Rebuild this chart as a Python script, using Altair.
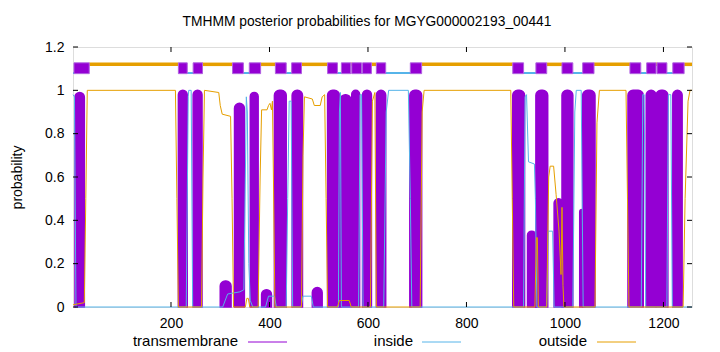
import altair as alt
import pandas as pd

title_text = "TMHMM posterior probabilities for MGYG000002193_00441"
seq_first = 1
seq_last = 1258

# --- transmembrane posterior peaks (start, end, height) ---
tm_start = [5, 215, 245, 300, 329, 361, 384, 410, 446, 487, 518, 544, 567, 589, 617, 685,
            894, 924, 941, 978, 994, 1030, 1036, 1128, 1165, 1185, 1219]
tm_end = [24, 233, 263, 322, 349, 377, 404, 434, 467, 507, 542, 565, 583, 607, 636, 709,
          918, 941, 965, 996, 1016, 1040, 1061, 1159, 1185, 1209, 1238]
tm_height = [0.99, 1.0, 1.0, 0.12, 0.94, 0.99, 0.08, 1.0, 1.0, 0.09, 1.0, 0.98, 1.0, 1.0, 1.0, 1.0,
             1.0, 0.35, 1.0, 0.5, 1.0, 0.45, 1.0, 1.0, 1.0, 1.0, 1.0]

# --- inside posterior (breakpoints) ---
inside_pos = [1, 4, 7, 231, 235, 236, 241, 244, 305, 315, 340, 348, 351, 353, 355, 358, 361, 366,
              392, 398, 410, 414, 434, 437, 440, 444, 447, 464, 468, 485, 489, 540, 542, 544, 546,
              581, 584, 587, 590, 632, 637, 642, 682, 686, 689, 916, 919, 922, 926, 938, 940, 943,
              963, 966, 975, 978, 1016, 1020, 1023, 1033, 1037, 1155, 1158, 1161, 1164,
              1207, 1210, 1215, 1218, 1258]
inside_prob = [0.98, 0.97, 0.0, 0.0, 0.97, 1.0, 1.0, 0.0, 0.0, 0.06, 0.07, 0.08, 0.6, 0.97, 0.9, 0.2, 0.03, 0.0,
               0.0, 0.05, 0.05, 0.0, 0.0, 0.5, 0.95, 0.95, 0.0, 0.0, 0.05, 0.05, 0.0, 0.0, 0.9, 0.99, 0.0,
               0.0, 0.98, 0.98, 0.0, 0.0, 0.9, 1.0, 1.0, 0.5, 0.0, 0.0, 0.97, 0.98, 0.67, 0.66, 0.5, 0.0,
               0.0, 0.35, 0.35, 0.0, 0.0, 0.9, 1.0, 1.0, 0.0, 0.0, 0.98, 0.98, 0.0,
               0.0, 0.98, 0.98, 0.0, 0.0]

# --- outside posterior (breakpoints) ---
outside_pos = [1, 24, 27, 30, 209, 212, 215, 262, 265, 268, 297, 300, 304, 321, 324, 327,
               351, 354, 357, 360, 377, 381, 384, 395, 398, 401, 404, 406, 408, 411,
               465, 468, 471, 487, 491, 503, 507, 512, 515, 518, 538, 542, 562, 566,
               605, 609, 614, 617, 706, 710, 714, 890, 893, 896, 939, 942, 944, 946,
               963, 967, 970, 977, 982, 988, 992, 994, 996, 998,
               1061, 1065, 1070, 1124, 1127, 1130, 1240, 1244, 1250, 1254, 1258]
outside_prob = [0.01, 0.02, 0.5, 1.0, 1.0, 0.5, 0.0, 0.0, 0.6, 1.0, 0.99, 0.93, 0.89, 0.88, 0.5, 0.0,
                0.0, 0.04, 0.04, 0.0, 0.0, 0.6, 0.91, 0.91, 0.93, 0.94, 0.91, 0.95, 0.6, 0.0,
                0.0, 0.7, 0.97, 0.96, 0.93, 0.93, 0.97, 0.98, 0.5, 0.0, 0.0, 0.03, 0.03, 0.0,
                0.0, 0.95, 0.99, 0.0, 0.0, 0.9, 1.0, 1.0, 0.5, 0.0, 0.0, 0.32, 0.32, 0.0,
                0.0, 0.6, 0.65, 0.65, 0.52, 0.35, 0.15, 0.46, 0.1, 0.0,
                0.0, 0.85, 1.0, 1.0, 0.5, 0.0, 0.0, 0.5, 0.95, 1.0, 1.0]

# --- predicted topology band at the top ---
band_tm_start = [3, 215, 245, 325, 359, 412, 445, 518, 546, 567, 589, 617, 686, 894, 941, 994, 1036,
                 1132, 1166, 1187, 1219]
band_tm_end = [34, 233, 264, 347, 382, 434, 465, 538, 565, 587, 607, 636, 709, 916, 963, 1016, 1059,
               1154, 1185, 1207, 1242]
band_in_start = [1, 233, 347, 434, 538, 587, 636, 916, 1016, 1154, 1207]
band_in_end = [3, 245, 359, 445, 546, 589, 686, 941, 1036, 1166, 1219]
band_out_start = [34, 263, 382, 465, 565, 607, 709, 963, 1059, 1185, 1242]
band_out_end = [215, 325, 412, 518, 567, 617, 894, 994, 1132, 1187, 1258]

x_ticks = [200, 400, 600, 800, 1000, 1200]
y_ticks = [0, 0.2, 0.4, 0.6, 0.8, 1.0, 1.2]

legend_names = ["transmembrane", "inside", "outside"]

PURPLE = "#9400D3"
BLUE = "#56B4E9"
ORANGE = "#E69F00"
FONT = "Liberation Sans"
W, H = 619, 260

xs = alt.Scale(domain=[seq_first, seq_last], nice=False, zero=False)
ys = alt.Scale(domain=[0, 1.2], nice=False, zero=False)

AX_X = alt.Axis(values=x_ticks, format="d", title=None, grid=False, ticks=False,
                tickSize=0, domain=False, labelFontSize=14, labelFont=FONT,
                labelColor="black", labelPadding=9)
AX_Y = alt.Axis(values=y_ticks, format="~g", title="probability", grid=False,
                ticks=False, tickSize=0, domain=False, labelFontSize=14,
                labelFont=FONT, labelColor="black", labelPadding=9,
                titleFontSize=14, titleFont=FONT, titleFontWeight="normal",
                titleColor="black", titleAngle=270, titleX=-56, titleY=130,
                titleAlign="center", titleBaseline="middle")


def X(field):
    return alt.X(field, scale=xs, axis=AX_X, title=None)


def Y(field):
    return alt.Y(field, scale=ys, axis=AX_Y, title="probability")


tm_df = pd.DataFrame({"start": tm_start, "end": tm_end, "h": tm_height})
in_df = pd.DataFrame({"pos": inside_pos, "p": inside_prob})
out_df = pd.DataFrame({"pos": outside_pos, "p": outside_prob})
btm_df = pd.DataFrame({"start": band_tm_start, "end": band_tm_end})
bin_df = pd.DataFrame({"start": band_in_start, "end": band_in_end})
bout_df = pd.DataFrame({"start": band_out_start, "end": band_out_end})
xt_df = pd.DataFrame({"t": x_ticks})
yt_df = pd.DataFrame({"t": y_ticks})

tm_layer = alt.Chart(tm_df).mark_rect(
    color=PURPLE, stroke=PURPLE, strokeWidth=1.5,
    cornerRadiusTopLeft=5, cornerRadiusTopRight=5
).encode(x=X("start:Q"), x2="end:Q", y=Y("h:Q"), y2=alt.datum(0))

in_layer = alt.Chart(in_df).mark_line(color=BLUE, strokeWidth=1).encode(
    x=X("pos:Q"), y=Y("p:Q"))
out_layer = alt.Chart(out_df).mark_line(color=ORANGE, strokeWidth=1).encode(
    x=X("pos:Q"), y=Y("p:Q"))

bout_layer = alt.Chart(bout_df).mark_rule(color=ORANGE, strokeWidth=3.5).encode(
    x=X("start:Q"), x2="end:Q", y=alt.datum(1.12))
bin_layer = alt.Chart(bin_df).mark_rule(color=BLUE, strokeWidth=2).encode(
    x=X("start:Q"), x2="end:Q", y=alt.datum(1.08))
btm_layer = alt.Chart(btm_df).mark_rect(color=PURPLE, stroke="#b060e0", strokeWidth=1).encode(
    x=X("start:Q"), x2="end:Q", y=alt.datum(1.077), y2=alt.datum(1.127))

xt_bot = alt.Chart(xt_df).mark_rule(color="black", strokeWidth=1).encode(
    x=X("t:Q"), y=alt.value(H), y2=alt.value(H - 5))
xt_top = alt.Chart(xt_df).mark_rule(color="black", strokeWidth=1).encode(
    x=X("t:Q"), y=alt.value(0), y2=alt.value(5))
yt_left = alt.Chart(yt_df).mark_rule(color="black", strokeWidth=1).encode(
    y=Y("t:Q"), x=alt.value(0), x2=alt.value(5))
yt_right = alt.Chart(yt_df).mark_rule(color="black", strokeWidth=1).encode(
    y=Y("t:Q"), x=alt.value(W), x2=alt.value(W - 5))

title_layer = alt.Chart(pd.DataFrame({"n": [title_text]})).mark_text(
    align="center", baseline="alphabetic", fontSize=13.8, font=FONT, color="black"
).encode(text="n:N", x=alt.value(294), y=alt.value(-21))

legend_layers = []
legend_colors = [PURPLE, BLUE, ORANGE]
text_right = [165, 340, 514]
line_from = [175, 349, 524]
for name, col, tr, lf in zip(legend_names, legend_colors, text_right, line_from):
    legend_layers.append(
        alt.Chart(pd.DataFrame({"n": [name]})).mark_text(
            align="right", baseline="alphabetic", fontSize=15, font=FONT, color="black"
        ).encode(text="n:N", x=alt.value(tr), y=alt.value(299))
    )
    legend_layers.append(
        alt.Chart(pd.DataFrame({"n": [name]})).mark_rule(color=col, strokeWidth=1).encode(
            x=alt.value(lf), x2=alt.value(lf + 39), y=alt.value(295))
    )

chart = alt.layer(
    tm_layer, in_layer, out_layer, bout_layer, bin_layer, btm_layer,
    xt_bot, xt_top, yt_left, yt_right, title_layer, *legend_layers
).properties(
    width=W, height=H,
    autosize=alt.AutoSizeParams(type="none"),
    padding={"left": 73, "top": 47, "right": 28, "bottom": 45},
).configure_view(
    stroke="black", strokeWidth=1
).configure(
    font=FONT, background="white"
)

chart.save("out.html", embed_options={"renderer": "svg", "actions": False})
